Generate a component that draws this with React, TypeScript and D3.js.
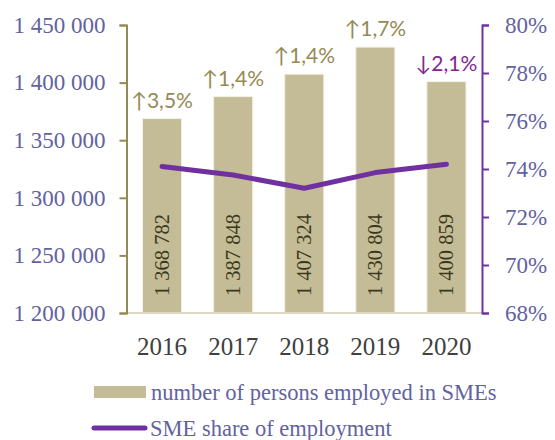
import { useRef, useEffect } from 'react';
import * as d3 from 'd3';

const YEARS = ['2016', '2017', '2018', '2019', '2020'];
const EMPLOYED = [1368782, 1387848, 1407324, 1430804, 1400859];
const EMPLOYED_LABELS = ['1 368 782', '1 387 848', '1 407 324', '1 430 804', '1 400 859'];
const SHARE = [74.1, 73.75, 73.2, 73.85, 74.2];
const CHANGE_LABELS = ['↑3,5%', '↑1,4%', '↑1,4%', '↑1,7%', '↓2,1%'];
const CHANGE_UP = [true, true, true, true, false];
const LEFT_TICKS = [1200000, 1250000, 1300000, 1350000, 1400000, 1450000];
const RIGHT_TICKS = [68, 70, 72, 74, 76, 78, 80];

const W = 555;
const H = 440;
const PLOT = { left: 126.5, right: 482, top: 25, bottom: 313 };

const BAR_COLOR = '#c4bc96';
const LINE_COLOR = '#7030a0';
const OLIVE = '#948a54';
const TICK_TEXT = '#6262a0';
const SERIF = "'Liberation Serif', serif";
const SANS = "Lato, 'Open Sans', 'DejaVu Sans', sans-serif";

const fmtSpace = (v: number) => d3.format(',')(v).replace(/,/g, ' ');

export default function App() {
  const svgRef = useRef<SVGSVGElement>(null);

  useEffect(() => {
    if (!svgRef.current) return;
    const svg = d3.select(svgRef.current);
    svg.selectAll('*').remove();

    const x = d3.scaleBand().domain(YEARS).range([PLOT.left, PLOT.right]).paddingInner(0.45).paddingOuter(0.225);
    const yL = d3.scaleLinear().domain([1200000, 1450000]).range([PLOT.bottom, PLOT.top]);
    const yR = d3.scaleLinear().domain([68, 80]).range([PLOT.bottom, PLOT.top]);

    // Bars
    svg.append('g')
      .selectAll('rect')
      .data(EMPLOYED)
      .join('rect')
      .attr('x', (_, i) => x(YEARS[i])!)
      .attr('y', d => yL(d))
      .attr('width', x.bandwidth())
      .attr('height', d => PLOT.bottom - yL(d))
      .attr('fill', BAR_COLOR)
      .attr('stroke', '#f4f1e8')
      .attr('stroke-width', 1);

    // Baseline
    svg.append('line')
      .attr('x1', PLOT.left).attr('x2', PLOT.right)
      .attr('y1', PLOT.bottom).attr('y2', PLOT.bottom)
      .attr('stroke', '#ddd8c3').attr('stroke-width', 2);

    // Value labels inside bars (rotated)
    svg.append('g')
      .selectAll('text')
      .data(EMPLOYED_LABELS)
      .join('text')
      .attr('transform', (_, i) => `translate(${x(YEARS[i])! + x.bandwidth() / 2 + 7},${PLOT.bottom - 17}) rotate(-90)`)
      .style('font-family', SERIF).style('font-size', '20.5px').attr('fill', '#3a381a')
      .text(d => d);

    // Change labels above bars
    svg.append('g')
      .selectAll('text')
      .data(CHANGE_LABELS)
      .join('text')
      .attr('x', (_, i) => x(YEARS[i])! + x.bandwidth() / 2)
      .attr('y', (_, i) => yL(EMPLOYED[i]) - 11)
      .attr('text-anchor', 'middle')
      .style('font-family', SANS).style('font-size', '21px')
      .attr('fill', (_, i) => (CHANGE_UP[i] ? OLIVE : '#82288c'))
      .text(d => d);

    // Share line
    const line = d3.line<number>()
      .x((_, i) => x(YEARS[i])! + x.bandwidth() / 2)
      .y(d => yR(d));
    svg.append('path')
      .datum(SHARE)
      .attr('d', line)
      .attr('fill', 'none')
      .attr('stroke', LINE_COLOR)
      .attr('stroke-width', 5)
      .attr('stroke-linecap', 'round')
      .attr('stroke-linejoin', 'round');

    // Left axis
    svg.append('g')
      .attr('transform', `translate(${PLOT.left},0)`)
      .call(d3.axisLeft(yL).tickValues(LEFT_TICKS).tickFormat(d => fmtSpace(d as number)).tickSize(7).tickSizeOuter(7).tickPadding(14))
      .call(g => g.selectAll('line, path').attr('stroke', OLIVE).attr('stroke-width', 2))
      .call(g => g.selectAll('text').attr('fill', TICK_TEXT).style('font-family', SERIF).style('font-size', '23px'));

    // Right axis
    svg.append('g')
      .attr('transform', `translate(${PLOT.right},0)`)
      .call(d3.axisRight(yR).tickValues(RIGHT_TICKS).tickFormat(d => `${d}%`).tickSize(7).tickSizeOuter(7).tickPadding(16))
      .call(g => g.selectAll('line, path').attr('stroke', LINE_COLOR).attr('stroke-width', 2))
      .call(g => g.selectAll('text').attr('fill', TICK_TEXT).style('font-family', SERIF).style('font-size', '23px'));

    // Year labels
    svg.append('g')
      .selectAll('text')
      .data(YEARS)
      .join('text')
      .attr('x', d => x(d)! + x.bandwidth() / 2)
      .attr('y', 355)
      .attr('text-anchor', 'middle')
      .style('font-family', SERIF).style('font-size', '25px').attr('fill', '#404040')
      .text(d => d);

    // Legend
    const lg = svg.append('g');
    lg.append('rect').attr('x', 94).attr('y', 386).attr('width', 52).attr('height', 12).attr('fill', BAR_COLOR);
    lg.append('text').attr('x', 151).attr('y', 400)
      .style('font-family', SERIF).style('font-size', '22.5px').attr('fill', TICK_TEXT)
      .text('number of persons employed in SMEs');
    lg.append('line').attr('x1', 94).attr('x2', 145).attr('y1', 428).attr('y2', 428)
      .attr('stroke', LINE_COLOR).attr('stroke-width', 5).attr('stroke-linecap', 'round');
    lg.append('text').attr('x', 150).attr('y', 436)
      .style('font-family', SERIF).style('font-size', '22.5px').attr('fill', TICK_TEXT)
      .text('SME share of employment');
  }, []);

  return (
    <div style={{ position: 'absolute', left: 0, top: 0 }}>
      <svg ref={svgRef} width={W} height={H} style={{ display: 'block', background: '#fff' }} />
    </div>
  );
}
